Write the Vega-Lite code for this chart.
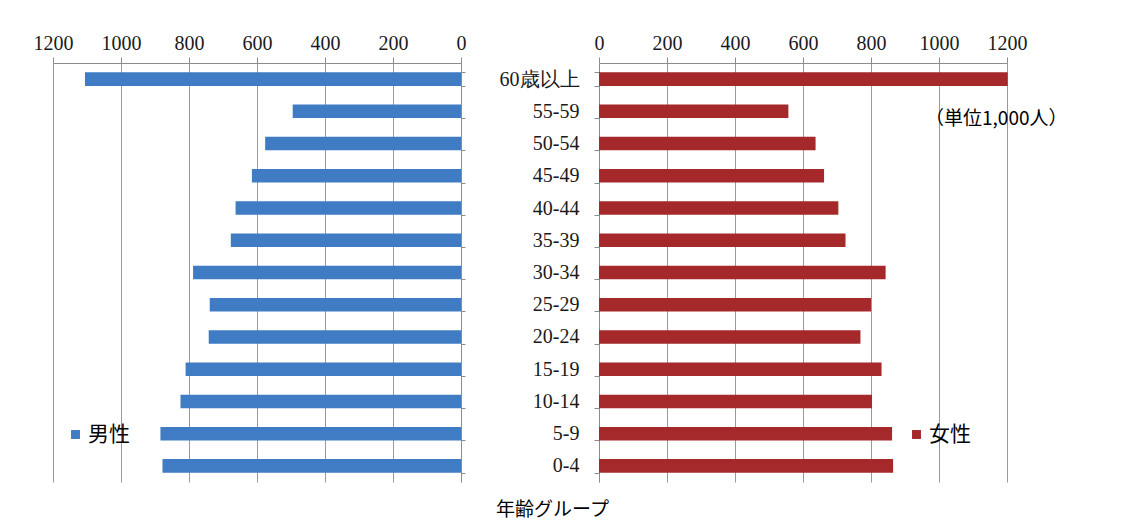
{
  "$schema": "https://vega.github.io/schema/vega-lite/v6.json",
  "background": "white",
  "padding": {"left": 33, "top": 33, "right": 5, "bottom": 5},
  "datasets": {
    "pop": [
      {"age": "60歳以上", "male": 1106, "female": 1202},
      {"age": "55-59", "male": 495, "female": 557},
      {"age": "50-54", "male": 576, "female": 637},
      {"age": "45-49", "male": 615, "female": 662},
      {"age": "40-44", "male": 663, "female": 704},
      {"age": "35-39", "male": 677, "female": 725},
      {"age": "30-34", "male": 788, "female": 843},
      {"age": "25-29", "male": 739, "female": 800},
      {"age": "20-24", "male": 742, "female": 769},
      {"age": "15-19", "male": 810, "female": 831},
      {"age": "10-14", "male": 825, "female": 803},
      {"age": "5-9", "male": 884, "female": 862},
      {"age": "0-4", "male": 878, "female": 865}
    ]
  },
  "config": {
    "view": {"stroke": null},
    "axis": {
      "labelFont": "Liberation Serif",
      "labelFontSize": 20,
      "labelColor": "#1a1a1a",
      "domainColor": "#8c8c8c",
      "tickColor": "#8c8c8c",
      "gridColor": "#9a9a9a",
      "gridOpacity": 1,
      "domainWidth": 1,
      "tickWidth": 1
    },
    "legend": {
      "symbolType": "square",
      "symbolSize": 80,
      "symbolStrokeWidth": 0,
      "labelFont": "Noto Sans CJK JP",
      "labelFontSize": 21,
      "labelColor": "#000000",
      "labelOffset": 2,
      "padding": 0
    }
  },
  "bounds": "flush",
  "spacing": 138,
  "hconcat": [
    {
      "width": 408,
      "height": 419,
      "data": {"name": "pop"},
      "mark": {"type": "bar"},
      "encoding": {
        "y": {
          "field": "age", "type": "nominal", "sort": null,
          "scale": {"paddingInner": 0.58, "paddingOuter": 0.29},
          "axis": {"orient": "right", "labels": false, "title": null, "tickBand": "extent", "tickSize": 4, "grid": false}
        },
        "x": {
          "field": "male", "type": "quantitative",
          "scale": {"domain": [0, 1200], "reverse": true, "nice": false},
          "axis": {"orient": "top", "values": [0, 200, 400, 600, 800, 1000, 1200], "format": "d", "labelFont": "Liberation Serif", "labelFontSize": 20, "title": null, "grid": true, "tickSize": 6, "labelPadding": 4, "labelFlush": false}
        },
        "color": {
          "datum": "男性",
          "scale": {"domain": ["男性"], "range": ["#3f7cc4"]},
          "legend": {"orient": "none", "legendX": 12, "legendY": 361, "title": null}
        }
      }
    },
    {
      "width": 408,
      "height": 419,
      "data": {"name": "pop"},
      "mark": {"type": "bar"},
      "encoding": {
        "y": {
          "field": "age", "type": "nominal", "sort": null,
          "scale": {"paddingInner": 0.58, "paddingOuter": 0.29},
          "axis": {
            "orient": "left", "tickBand": "extent", "tickSize": 5, "labelPadding": 15, "grid": false,
            "labelFont": "Liberation Serif", "labelFontSize": 20,
            "title": "年齢グループ", "titleAngle": 0, "titleX": -47, "titleY": 446,
            "titleAlign": "center", "titleBaseline": "middle", "titleFont": "Noto Sans CJK JP",
            "titleFontSize": 19, "titleFontWeight": "normal", "titleColor": "#000000"
          }
        },
        "x": {
          "field": "female", "type": "quantitative",
          "scale": {"domain": [0, 1200], "nice": false},
          "axis": {
            "orient": "top", "values": [0, 200, 400, 600, 800, 1000, 1200], "format": "d", "labelFont": "Liberation Serif", "labelFontSize": 20,
            "grid": true, "tickSize": 6, "labelPadding": 4, "labelFlush": false,
            "title": "（単位1,000人）", "titleX": 468, "titleY": 55, "titleAlign": "right", "titleBaseline": "middle",
            "titleFont": "Noto Sans CJK JP", "titleFontSize": 19, "titleFontWeight": "normal", "titleColor": "#000000"
          }
        },
        "color": {
          "datum": "女性",
          "scale": {"domain": ["女性"], "range": ["#a5282b"]},
          "legend": {"orient": "none", "legendX": 307, "legendY": 361, "title": null}
        }
      }
    }
  ],
  "resolve": {
    "scale": {"x": "independent", "y": "independent", "color": "independent"},
    "axis": {"x": "independent", "y": "independent"},
    "legend": {"color": "independent"}
  }
}
